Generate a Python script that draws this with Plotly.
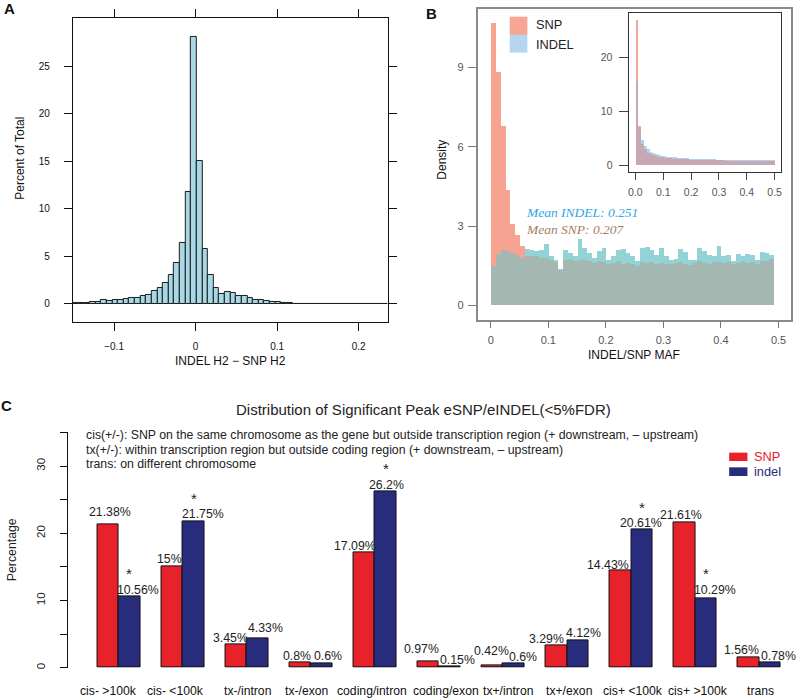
import plotly.graph_objects as go

# ---------------- data ----------------
# Panel A: histogram of INDEL H2 - SNP H2 (percent of total)
a_bin_start = -0.1504
a_bin_width = 0.0069
a_percent = [0.07, 0.10, 0.14, 0.18, 0.25, 0.39, 0.28, 0.42, 0.42, 0.53,
             0.63, 0.63, 0.80, 0.95, 1.37, 1.68, 2.2, 3.0, 4.3, 6.4,
             11.8, 28.1, 15.0, 5.75, 3.05, 1.68, 1.0, 1.23, 1.13, 0.84,
             0.80, 0.60, 0.46, 0.39, 0.32, 0.25, 0.18, 0.10, 0.05, 0.04,
             0.03, 0.03, 0.02, 0.02, 0.02, 0.02, 0.02, 0.01, 0.01, 0.01,
             0.01, 0.01, 0.01, 0.01, 0.01, 0.01]

# Panel B: MAF density histograms (bins of width 1/120 starting at 0)
b_bin_width = 1 / 120
b_snp = [10.7, 8.85, 6.8, 4.35, 3.09, 2.67, 2.23, 1.88, 1.85, 1.86,
         1.80, 1.78, 1.72, 1.65, 1.34, 1.70, 1.75, 1.68, 1.72, 1.70,
         1.66, 1.62, 1.68, 1.64, 1.55, 1.60, 1.66, 1.58, 1.62, 1.56,
         1.48, 1.63, 1.60, 1.65, 1.58, 1.62, 1.57, 1.55, 1.60, 1.64,
         1.58, 1.52, 1.60, 1.66, 1.62, 1.58, 1.63, 1.65, 1.60, 1.63,
         1.55, 1.62, 1.66, 1.60, 1.64, 1.58, 1.68, 1.66, 1.75]
b_indel = [1.5, 1.95, 2.08, 2.06, 1.98, 1.9, 1.8, 2.13, 2.10, 2.04,
           2.08, 2.33, 1.85, 1.73, 1.36, 2.08, 1.98, 1.85, 2.51, 2.17,
           1.98, 1.79, 2.04, 2.17, 1.73, 1.85, 2.08, 2.13, 1.98, 1.85,
           1.66, 2.17, 2.21, 2.08, 1.92, 2.17, 1.85, 1.73, 1.75, 2.13,
           2.0, 1.70, 1.73, 2.17, 2.04, 1.92, 1.85, 2.23, 1.85, 1.92,
           1.66, 1.95, 1.85, 1.95, 1.92, 1.73, 2.0, 1.98, 1.92]

# Panel B inset (bins of width 0.01)
inset_bin_width = 0.01
inset_snp = [26.8, 7.3, 4.0, 2.9, 2.3, 2.0, 1.8, 1.65, 1.55, 1.45,
             1.38, 1.32, 1.27, 1.22, 1.18, 1.15, 1.12, 1.09, 1.06, 1.04,
             1.02, 1.0, 0.98, 0.96, 0.95, 0.93, 0.92, 0.91, 0.9, 0.89,
             0.88, 0.87, 0.86, 0.85, 0.84, 0.84, 0.83, 0.82, 0.82, 0.81,
             0.81, 0.8, 0.8, 0.79, 0.79, 0.78, 0.78, 0.78, 0.77, 0.77]
inset_indel = [15.4, 6.6, 4.6, 3.5, 2.9, 2.5, 2.25, 2.05, 1.9, 1.78,
               1.68, 1.6, 1.53, 1.47, 1.42, 1.37, 1.33, 1.29, 1.26, 1.23,
               1.2, 1.18, 1.15, 1.13, 1.11, 1.09, 1.08, 1.06, 1.05, 1.04,
               1.03, 1.02, 1.01, 1.0, 0.99, 0.98, 0.97, 0.96, 0.96, 0.95,
               0.95, 0.94, 0.94, 0.93, 0.93, 0.92, 0.92, 0.92, 0.91, 0.91]

mean_indel = 0.251
mean_snp = 0.207

# Panel C
c_categories = ["cis- >100k", "cis- <100k", "tx-/intron", "tx-/exon", "coding/intron",
                "coding/exon", "tx+/intron", "tx+/exon", "cis+ <100k", "cis+ >100k", "trans"]
c_snp = [21.38, 15, 3.45, 0.8, 17.09, 0.97, 0.42, 3.29, 14.43, 21.61, 1.56]
c_indel = [10.56, 21.75, 4.33, 0.6, 26.2, 0.15, 0.6, 4.12, 20.61, 10.29, 0.78]
c_star_indel = [True, True, False, False, True, False, False, False, True, True, False]
c_notes = [
    "cis(+/-): SNP on the same chromosome as the gene but outside transcription region (+ downstream, \u2013 upstream)",
    "tx(+/-): within transcription region but outside coding region (+ downstream, \u2013 upstream)",
    "trans: on different chromosome",
]

# ---------------- helpers ----------------
W, H = 800, 700
def PX(x):
    return x / W
def PY(y):
    return 1 - y / H

FONT = "Liberation Sans, Arial, Helvetica, sans-serif"
SERIF = "Liberation Serif, Times New Roman, serif"

fig = go.Figure()

# ---------------- Panel A ----------------
a_centers = [a_bin_start + (i + 0.5) * a_bin_width for i in range(len(a_percent))]
fig.add_trace(go.Bar(x=a_centers, y=a_percent, width=a_bin_width,
                     marker=dict(color="#a8d8e6", line=dict(color="#1c1c1c", width=1)),
                     xaxis="x", yaxis="y", showlegend=False))

# ---------------- Panel B main ----------------
SNP_ONLY = "#f7a392"
INDEL_ONLY = "#93d3d6"
OVERLAP = "#a4b8b1"
b_centers = [(i + 0.5) * b_bin_width for i in range(len(b_snp))]
b_max = [max(s, d) for s, d in zip(b_snp, b_indel)]
b_min = [min(s, d) for s, d in zip(b_snp, b_indel)]
b_max_col = [SNP_ONLY if s > d else INDEL_ONLY for s, d in zip(b_snp, b_indel)]
fig.add_trace(go.Bar(x=b_centers, y=b_max, width=b_bin_width,
                     marker=dict(color=b_max_col, line=dict(width=0)),
                     xaxis="x2", yaxis="y2", showlegend=False))
fig.add_trace(go.Bar(x=b_centers, y=b_min, width=b_bin_width,
                     marker=dict(color=OVERLAP, line=dict(width=0)),
                     xaxis="x2", yaxis="y2", showlegend=False))

# ---------------- Panel B inset ----------------
I_SNP = "#f4a697"
I_INDEL = "#aed2ee"
I_OVER = "#c7a8b2"
i_centers = [(i + 0.5) * inset_bin_width for i in range(len(inset_snp))]
i_max = [max(s, d) for s, d in zip(inset_snp, inset_indel)]
i_min = [min(s, d) for s, d in zip(inset_snp, inset_indel)]
i_max_col = [I_SNP if s > d else I_INDEL for s, d in zip(inset_snp, inset_indel)]
fig.add_trace(go.Bar(x=i_centers, y=i_max, width=inset_bin_width,
                     marker=dict(color=i_max_col, line=dict(width=0)),
                     xaxis="x3", yaxis="y3", showlegend=False))
fig.add_trace(go.Bar(x=i_centers, y=i_min, width=inset_bin_width,
                     marker=dict(color=I_OVER, line=dict(width=0)),
                     xaxis="x3", yaxis="y3", showlegend=False))

# ---------------- Panel C ----------------
RED = "#e8222a"
NAVY = "#282c7c"
x_red = [3 * i + 1.5 for i in range(len(c_categories))]
x_blue = [3 * i + 2.5 for i in range(len(c_categories))]
fig.add_trace(go.Bar(x=x_red, y=c_snp, width=1, name="SNP",
                     marker=dict(color=RED, line=dict(color="#111", width=1)),
                     xaxis="x4", yaxis="y4", showlegend=False))
fig.add_trace(go.Bar(x=x_blue, y=c_indel, width=1, name="indel",
                     marker=dict(color=NAVY, line=dict(color="#111", width=1)),
                     xaxis="x4", yaxis="y4", showlegend=False))

annotations = []
shapes = []

def note(x, y, text, size, color="#222", family=FONT, xanchor="center", yanchor="middle", angle=0):
    annotations.append(dict(x=PX(x), y=PY(y), xref="paper", yref="paper", text=text,
                            showarrow=False, xanchor=xanchor, yanchor=yanchor, textangle=angle,
                            font=dict(size=size, color=color, family=family)))

# value labels in C
red_dx = [2, -3, -6, -3, -9, -7, -1, -10, -12, -3, -7]
red_dy = [12, 8, 7, 6, 7, 12, 14, 7, 6, 7, 7]
blue_dx = [9, 9, 8, 6, 1, 8, 9, 6, -1, 9, 9]
blue_dy = [7, 7, 11, 8, 7, 7, 7, 7, 6, 9, 7]
LBL = dict(size=12.3, color="#222", family=FONT)
for i in range(len(c_categories)):
    annotations.append(dict(x=x_red[i], y=c_snp[i], xref="x4", yref="y4",
                            text=f"{c_snp[i]:g}%", showarrow=False,
                            xanchor="center", yanchor="middle",
                            xshift=red_dx[i], yshift=red_dy[i], font=LBL))
    annotations.append(dict(x=x_blue[i], y=c_indel[i], xref="x4", yref="y4",
                            text=f"{c_indel[i]:g}%", showarrow=False,
                            xanchor="center", yanchor="middle",
                            xshift=blue_dx[i], yshift=blue_dy[i], font=LBL))
    if c_star_indel[i]:
        annotations.append(dict(x=x_blue[i], y=c_indel[i], xref="x4", yref="y4",
                                text="*", showarrow=False, xanchor="center", yanchor="middle",
                                yshift=blue_dy[i] + 16,
                                font=dict(size=15, color="#222", family=FONT)))

# category labels in C
cat_dx = [-10.6, -7.3, 0.7, -4, -3.2, 6.7, 5, 1.7, 2.1, 2.4, 1.6]
for i, c in enumerate(c_categories):
    annotations.append(dict(x=3 * i + 2, y=PY(692), xref="x4", yref="paper",
                            text=c, showarrow=False, xshift=cat_dx[i],
                            xanchor="center", yanchor="middle",
                            font=dict(size=12.2, color="#111", family=FONT)))

# C title, notes, legend
note(424, 410, "Distribution of Significant Peak eSNP/eINDEL(<5%FDR)", 15)
for k, t in enumerate(c_notes):
    note(83, [435.7, 450.7, 465][k], t, 12.3, xanchor="left")
shapes.append(dict(type="rect", xref="paper", yref="paper", x0=PX(730), x1=PX(748.3),
                   y0=PY(461.7), y1=PY(453.3), fillcolor=RED, line=dict(width=0)))
shapes.append(dict(type="rect", xref="paper", yref="paper", x0=PX(730), x1=PX(748.3),
                   y0=PY(476.7), y1=PY(468), fillcolor=NAVY, line=dict(width=0)))
note(753, 457.5, "SNP", 12.8, color=RED, xanchor="left")
note(753, 472.3, "indel", 12.8, color=NAVY, xanchor="left")
note(11, 550, "Percentage", 12.3, angle=-90)

# panel letters
note(9, 9, "<b>A</b>", 15, color="#111")
note(432, 14, "<b>B</b>", 15, color="#111")
note(6, 406, "<b>C</b>", 15, color="#111")

# A titles
note(19, 158, "Percent of Total", 12, color="#111", angle=-90)
note(230, 362, "INDEL H2 \u2212 SNP H2", 12, color="#111")

# B titles, legend, means
note(442, 160, "Density", 12, color="#111", angle=-90)
note(635, 356, "INDEL/SNP MAF", 12, color="#111")
shapes.append(dict(type="rect", xref="paper", yref="paper", x0=PX(510), x1=PX(527.7),
                   y0=PY(35), y1=PY(16.7), fillcolor="#f7a594", line=dict(width=0)))
shapes.append(dict(type="rect", xref="paper", yref="paper", x0=PX(510), x1=PX(527.7),
                   y0=PY(52.7), y1=PY(35), fillcolor="#b5d6ee", line=dict(width=0)))
note(534, 25, "SNP", 12.8, xanchor="left")
note(534, 45, "INDEL", 12.8, xanchor="left")
note(524, 212.5, f"<i>Mean INDEL: {mean_indel:.3f}</i>", 13.5, color="#2aa8df", family=SERIF, xanchor="left")
note(524, 230, f"<i>Mean SNP: {mean_snp:.3f}</i>", 13.5, color="#a57d63", family=SERIF, xanchor="left")

tickA = dict(size=10, color="#111", family=FONT)
tickB = dict(size=11, color="#555", family=FONT)

fig.update_layout(
    width=W, height=H, margin=dict(l=0, r=0, t=0, b=0),
    paper_bgcolor="white", plot_bgcolor="rgba(0,0,0,0)",
    barmode="overlay", bargap=0,
    font=dict(family=FONT),
    annotations=annotations, shapes=shapes,
    # Panel A
    xaxis=dict(domain=[PX(72), PX(388)], range=[-0.1506, 0.236], anchor="y",
               tickvals=[-0.1, 0, 0.1, 0.2], ticktext=["\u22120.1", "0", "0.1", "0.2"],
               ticks="outside", ticklen=8, tickcolor="#111", showline=True, linecolor="#111",
               linewidth=1, mirror="ticks", showgrid=False, zeroline=False,
               tickfont=tickA, ticklabelstandoff=7),
    yaxis=dict(domain=[PY(322.7), PY(18)], range=[-1.93, 30.07], anchor="x",
               tickvals=[0, 5, 10, 15, 20, 25], ticks="outside", ticklen=8, tickcolor="#111",
               showline=True, linecolor="#111", linewidth=1, mirror="ticks",
               showgrid=False, zeroline=False, tickfont=tickA, ticklabelstandoff=12),
    # Panel B main
    xaxis2=dict(domain=[PX(477.7), PX(792)], range=[-0.023, 0.5217], anchor="y2",
                tickvals=[0, 0.1, 0.2, 0.3, 0.4, 0.5], ticktext=["0", "0.1", "0.2", "0.3", "0.4", "0.5"],
                ticks="outside", ticklen=7, tickcolor="#777", showline=True, linecolor="#8a8a8a",
                linewidth=1.6, mirror=True, showgrid=False, zeroline=False, tickfont=tickB,
                ticklabelstandoff=2),
    yaxis2=dict(domain=[PY(320), PY(9)], range=[-0.54, 11.22], anchor="x2",
                tickvals=[0, 3, 6, 9], ticks="outside", ticklen=8, tickcolor="#777",
                showline=True, linecolor="#8a8a8a", linewidth=1.6, mirror=True,
                showgrid=False, zeroline=False, tickfont=tickB, ticklabelstandoff=2),
    # Panel B inset
    xaxis3=dict(domain=[PX(629.3), PX(782.3)], range=[-0.024, 0.524], anchor="y3",
                tickvals=[0, 0.1, 0.2, 0.3, 0.4, 0.5], ticktext=["0.0", "0.1", "0.2", "0.3", "0.4", "0.5"],
                ticks="outside", ticklen=7, tickcolor="#444", showline=True, linecolor="#333",
                linewidth=1.3, mirror=True, showgrid=False, zeroline=False,
                tickfont=dict(size=10.5, color="#555", family=FONT), ticklabelstandoff=3),
    yaxis3=dict(domain=[PY(172.3), PY(13.3)], range=[-1.22, 28.1], anchor="x3",
                tickvals=[0, 10, 20], ticks="outside", ticklen=9, tickcolor="#444",
                showline=True, linecolor="#333", linewidth=1.3, mirror=True,
                showgrid=False, zeroline=False,
                tickfont=dict(size=10.5, color="#555", family=FONT), ticklabelstandoff=4),
    # Panel C
    xaxis4=dict(domain=[PX(66.7), PX(790)], range=[-0.402, 33.4], anchor="y4",
                showline=False, showticklabels=False, ticks="", showgrid=False, zeroline=False),
    yaxis4=dict(domain=[PY(668.7), PY(433)], range=[0, 35], anchor="x4",
                tickvals=[0, 5, 10, 15, 20, 25, 30, 35],
                ticktext=["0", "", "10", "", "20", "", "30", ""],
                tickangle=-90, ticks="outside", ticklen=7, tickcolor="#111",
                showline=True, linecolor="#111", linewidth=1, showgrid=False, zeroline=False,
                tickfont=dict(size=11.5, color="#222", family=FONT), ticklabelstandoff=10),
)

fig.write_html("out.html", config={"displayModeBar": False},
               post_script="document.body.style.margin='0px';")
